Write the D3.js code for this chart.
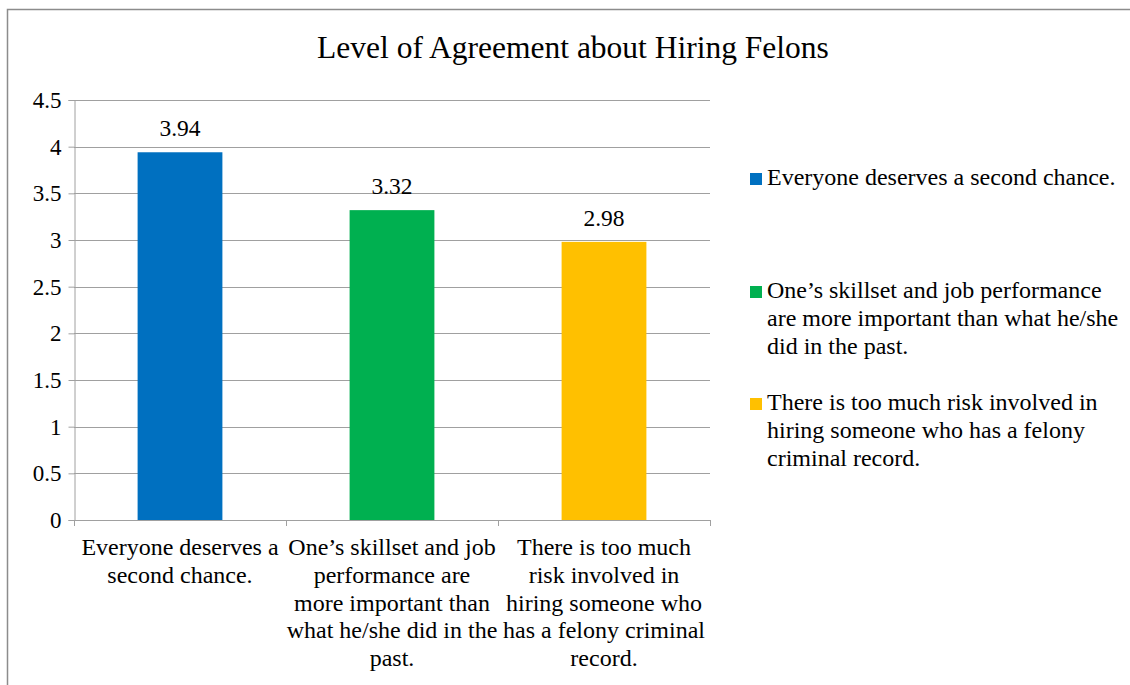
<!DOCTYPE html>
<html>
<head>
<meta charset="utf-8">
<script src="https://d3js.org/d3.v7.min.js"></script>
<style>
  body { margin: 0; background: #fff; }
  svg { display: block; }
  svg text { font-family: 'Liberation Serif', serif; }
</style>
</head>
<body>
<svg id="chart" width="1130" height="685"></svg>
<script>
// data
var categories = [
  "Everyone deserves a second chance.",
  "One’s skillset and job performance are more important than what he/she did in the past.",
  "There is too much risk involved in hiring someone who has a felony criminal record."
];
var values = [3.94, 3.32, 2.98];
var colors = ["#0070C0", "#00B050", "#FFC000"];
var yTicks = [0, 0.5, 1, 1.5, 2, 2.5, 3, 3.5, 4, 4.5];

// how the labels break into lines under the axis and in the legend
var axisLines = [
  ["Everyone deserves a", "second chance."],
  ["One’s skillset and job", "performance are", "more important than", "what he/she did in the", "past."],
  ["There is too much", "risk involved in", "hiring someone who", "has a felony criminal", "record."]
];
var legendLines = [
  ["Everyone deserves a second chance."],
  ["One’s skillset and job performance", "are more important than what he/she", "did in the past."],
  ["There is too much risk involved in", "hiring someone who has a felony", "criminal record."]
];

var FONT = "'Liberation Serif', serif";
var GRID = "#a0a0a0";

var svg = d3.select("#chart");

// outer frame (runs off the right and bottom edge)
svg.append("rect")
  .attr("x", 7.5).attr("y", 9.5)
  .attr("width", 1140).attr("height", 700)
  .attr("fill", "none")
  .attr("stroke", "#8c8c8c")
  .attr("stroke-width", 1.5);

// title
svg.append("text")
  .attr("x", 573).attr("y", 58)
  .attr("text-anchor", "middle")
  .style("font-family", FONT)
  .style("font-size", "31.5px")
  .attr("fill", "#000")
  .text("Level of Agreement about Hiring Felons");

var margin = {left: 74, top: 100, right: 710, bottom: 520};

var x = d3.scaleBand()
  .domain(d3.range(categories.length))
  .range([margin.left, margin.right])
  .paddingInner(0).paddingOuter(0);

var y = d3.scaleLinear()
  .domain([0, 4.5])
  .range([margin.bottom, margin.top]);

// gridlines
svg.append("g")
  .selectAll("line")
  .data(yTicks.filter(function(d) { return d > 0; }))
  .enter()
  .append("line")
  .attr("x1", margin.left).attr("x2", margin.right)
  .attr("y1", function(d) { return Math.round(y(d)) + 0.5; })
  .attr("y2", function(d) { return Math.round(y(d)) + 0.5; })
  .attr("stroke", GRID)
  .attr("stroke-width", 1);

// y axis
var yAxis = svg.append("g")
  .attr("transform", "translate(" + (margin.left + 0.5) + ",0)")
  .call(d3.axisLeft(y).tickValues(yTicks).tickSize(6).tickPadding(7)
    .tickFormat(function(d) { return String(d); }));
yAxis.select(".domain").attr("stroke", GRID);
yAxis.selectAll(".tick line").attr("stroke", GRID);
yAxis.selectAll(".tick text")
  .style("font-family", FONT)
  .style("font-size", "23px")
  .attr("fill", "#000");

// x axis line with category tick marks at band edges
svg.append("line")
  .attr("x1", margin.left).attr("x2", margin.right)
  .attr("y1", margin.bottom + 0.5).attr("y2", margin.bottom + 0.5)
  .attr("stroke", GRID);
var edges = d3.range(categories.length + 1).map(function(i) {
  return i < categories.length ? x(i) : x(i - 1) + x.bandwidth();
});
svg.append("g")
  .selectAll("line")
  .data(edges)
  .enter()
  .append("line")
  .attr("x1", function(d) { return Math.round(d) + 0.5; })
  .attr("x2", function(d) { return Math.round(d) + 0.5; })
  .attr("y1", margin.bottom)
  .attr("y2", margin.bottom + 6)
  .attr("stroke", GRID);

// bars
var barW = x.bandwidth() * 0.4;
svg.append("g")
  .selectAll("rect")
  .data(values)
  .enter()
  .append("rect")
  .attr("x", function(d, i) { return x(i) + (x.bandwidth() - barW) / 2; })
  .attr("y", function(d) { return y(d); })
  .attr("width", barW)
  .attr("height", function(d) { return y(0) - y(d); })
  .attr("fill", function(d, i) { return colors[i]; });

// value labels
svg.append("g")
  .selectAll("text")
  .data(values)
  .enter()
  .append("text")
  .attr("x", function(d, i) { return x(i) + x.bandwidth() / 2; })
  .attr("y", function(d) { return y(d) - 16; })
  .attr("text-anchor", "middle")
  .style("font-family", FONT)
  .style("font-size", "23.5px")
  .attr("fill", "#000")
  .text(function(d) { return d.toFixed(2); });

// category labels
var catLabels = svg.append("g")
  .selectAll("text")
  .data(axisLines)
  .enter()
  .append("text")
  .attr("text-anchor", "middle")
  .style("font-family", FONT)
  .style("font-size", "24px")
  .attr("fill", "#000");
catLabels.selectAll("tspan")
  .data(function(d, i) { return d.map(function(l) { return {line: l, i: i}; }); })
  .enter()
  .append("tspan")
  .attr("x", function(d) { return x(d.i) + x.bandwidth() / 2; })
  .attr("y", function(d, j) { return 555 + j * 27.8; })
  .text(function(d) { return d.line; });

// legend
var legendY = [185, 298, 410];
var legend = svg.append("g")
  .selectAll("g")
  .data(legendLines)
  .enter()
  .append("g");
legend.append("rect")
  .attr("x", 750)
  .attr("y", function(d, i) { return legendY[i] - 12; })
  .attr("width", 12).attr("height", 12)
  .attr("fill", function(d, i) { return colors[i]; });
legend.append("text")
  .style("font-family", FONT)
  .style("font-size", "24px")
  .attr("fill", "#000")
  .each(function(d, i) {
    d3.select(this).selectAll("tspan")
      .data(d)
      .enter()
      .append("tspan")
      .attr("x", 767)
      .attr("y", function(l, j) { return legendY[i] + j * 28; })
      .text(function(l) { return l; });
  });
</script>
</body>
</html>
